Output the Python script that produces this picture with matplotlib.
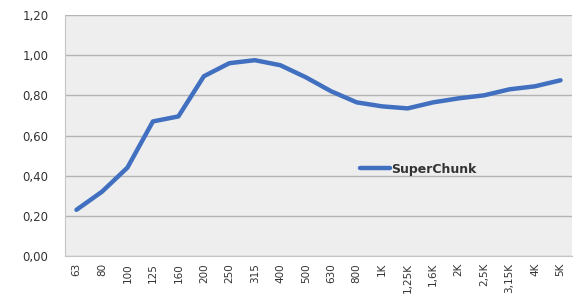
import matplotlib
matplotlib.use("Agg")
import matplotlib.pyplot as plt

categories = ["63", "80", "100", "125", "160", "200", "250", "315", "400", "500",
              "630", "800", "1K", "1,25K", "1,6K", "2K", "2,5K", "3,15K", "4K", "5K"]
superchunk = [0.23, 0.32, 0.44, 0.67, 0.695, 0.895, 0.96, 0.975, 0.95, 0.89,
              0.82, 0.765, 0.745, 0.735, 0.765, 0.785, 0.80, 0.83, 0.845, 0.875]
yticks = [0.0, 0.2, 0.4, 0.6, 0.8, 1.0, 1.2]
ytick_labels = ["0,00", "0,20", "0,40", "0,60", "0,80", "1,00", "1,20"]

fig = plt.figure(figsize=(5.76, 2.98), dpi=100)
ax = fig.add_axes([65/576, 1 - 256/298, (572-65)/576, (256-15)/298])
ax.set_facecolor("#eeeeee")

x = list(range(len(categories)))
ax.plot(x, superchunk, color="#4170c0", lw=3.2, solid_joinstyle="round",
        solid_capstyle="round", label="SuperChunk", zorder=3)

ax.set_ylim(0, 1.2)
ax.set_xlim(-0.45, len(categories) - 0.55)
ax.set_yticks(yticks)
ax.set_yticklabels(ytick_labels, fontsize=8.5, color="#333333")
ax.set_xticks(x)
ax.set_xticklabels(categories, rotation=90, fontsize=7.5, color="#333333")
ax.yaxis.grid(True, color="#b4b4b4", lw=1)
ax.set_axisbelow(True)
for s in ["top", "right"]:
    ax.spines[s].set_visible(False)
ax.spines["left"].set_color("#c4c4c4")
ax.spines["bottom"].set_color("#c4c4c4")
ax.tick_params(axis="y", length=0, pad=12)
ax.tick_params(axis="x", length=0, pad=5)

leg = ax.legend(loc="center left", bbox_to_anchor=(0.56, 0.36), frameon=False,
                fontsize=9, handlelength=2.4, handletextpad=0.1)
for t in leg.get_texts():
    t.set_fontweight("bold")
    t.set_color("#333333")

fig.savefig("out.png", dpi=100, facecolor="white")
